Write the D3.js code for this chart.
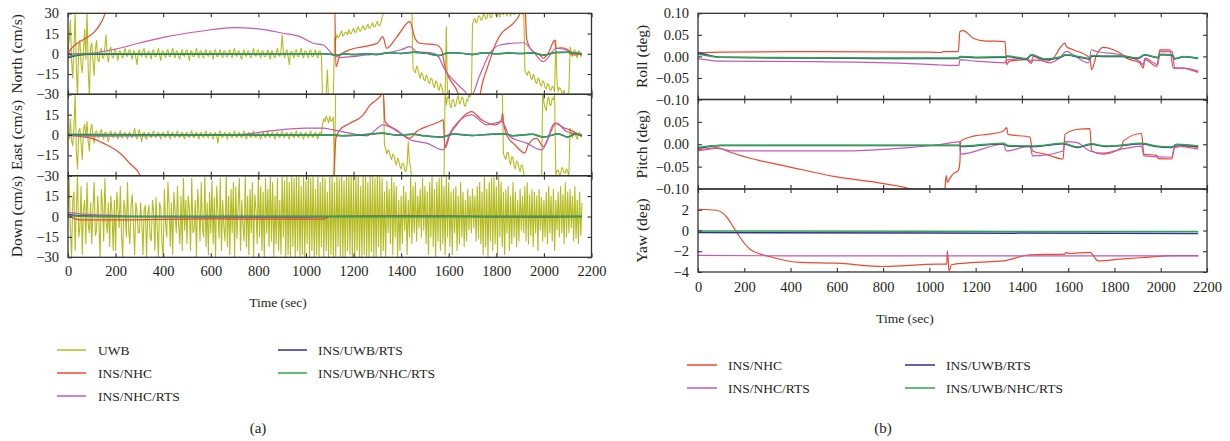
<!DOCTYPE html>
<html>
<head>
<meta charset="utf-8">
<script src="https://cdn.jsdelivr.net/npm/d3@7"></script>
<style>
  body { margin: 0; background: #fff; }
  svg text { font-family: "Liberation Serif", "Times New Roman", serif; fill: #231f20; }
</style>
</head>
<body>
<svg id="chart" width="1230" height="441"></svg>
<script>
// ---- data ----
// UWB velocity samples, one every 5 s from 0 to 2160 s (one row = 100 s)
const uwbTime = d3.range(0, 2161, 5);
const uwbNorth = [
  2, 10, 25, -5, -18, 4, 30, -10, -32, 6, 10, -8, -14, 3, 18, -4, 32, -12, -32, 5,
  8, -6, -16, 3, 10, -4, -6, 2, 4, -3, -3, 5, 14, -2, -6, 3, 5, -2, -3, 2,
  3, -1, -5, 2, 2, -2, -3, 1, 4, -1, -2, 2, 3, -1, -4, 2, 2, -3, -8, 1,
  3, -1, -2, 2, 4, -2, -3, 1, 2, -1, -4, 2, 3, -2, -2, 1, 4, -1, -5, 2,
  2, -1, -3, 2, 3, -2, -2, 1, 4, -1, -3, 2, 2, -2, -4, 1, 3, -1, -2, 2,
  3, -1, -5, 2, 2, -2, -2, 1, 4, -1, -3, 2, 2, -2, -3, 1, 3, -1, -2, 2,
  2, -1, -4, 2, 3, -2, -2, 1, 3, -1, -3, 2, 2, -2, -2, 1, 3, -1, -3, 2,
  4, -1, -2, 2, 2, -2, -4, 1, 3, -1, -2, 2, 2, -2, -3, 1, 4, -1, -2, 2,
  3, -1, -3, 2, 2, -2, -2, 1, 3, -1, -4, 2, 2, -2, -3, 1, 4, -1, -2, 2,
  14, 2, -3, 1, 3, -2, -8, 1, 2, -1, -3, 2, 3, -2, -2, 1, 4, -1, -3, 2,
  2, -1, -3, 2, 3, -2, -2, 1, 3, -1, -3, 2, 2, -2, -34, -34, -34, -30, -12, -34,
  -34, -34, -34, -34, 12, 10, 14, 12, 13, 15, 17, 13, 14, 16, 16, 14, 18, 15, 15, 17,
  19, 16, 16, 18, 20, 17, 17, 19, 21, 18, 18, 20, 22, 19, 19, 21, 23, 20, 20, 22,
  24, 21, 21, 23, 27, 30, 34, 34, 34, 34, 34, 34, 34, 34, 34, 34, 34, 34, 34, 34,
  34, 34, 34, 34, 34, 34, 34, 34, 34, 34, -10, -13, -14, -9, -11, -15, -18, -14, -15, -19,
  -20, -16, -17, -21, -22, -18, -19, -23, -25, -20, -21, -26, -27, -22, -24, -28, -34, -30, 20, -34,
  -34, -34, -34, -34, -34, -34, -34, -34, -34, -34, -34, -34, -34, -34, -34, -34, -34, -34, -34, -34,
  22, 25, 26, 23, 24, 28, 28, 25, 25, 29, 29, 26, 26, 30, 30, 27, 27, 32, 34, 30,
  28, 31, 30, 27, 34, 30, 29, 32, 31, 28, 34, 31, 28, 32, 34, 29, 30, 34, 34, 31,
  34, 32, 29, 34, -12, -14, -16, -13, -14, -18, -19, -15, -17, -21, -22, -18, -19, -23, -24, -20,
  -21, -25, -26, -22, -23, -27, -27, -24, -25, -28, 10, -20, -28, -25, -26, -29, -29, -27, -34, -31,
  -30, -28, 5, 1, -2, 2, 3, -1, -3, 2, 2, -2, -1
];
const uwbEast = [
  1, -3, 12, -4, -8, 6, 30, -12, -25, 3, 5, -6, -18, 4, 8, -2, 10, -5, -12, 4,
  8, -2, -6, 2, 3, -1, -2, 2, 4, -1, -3, 2, 2, -2, -5, 1, 3, -1, -2, 2,
  2, -1, -3, 1, 3, -2, -2, 1, 2, -1, -3, 1, 2, -1, -2, 1, 5, -1, -3, 1,
  4, -1, -5, 1, 2, -2, -3, 1, 2, -1, -2, 1, 3, -1, -2, 1, 2, -1, -3, 1,
  2, -1, -2, 1, 3, -1, -3, 1, 2, -1, -2, 1, 3, -1, -2, 1, 2, -1, -3, 1,
  2, -1, -2, 1, 3, -1, -2, 1, 2, -1, -3, 1, 2, -1, -2, 1, 3, -1, -2, 1,
  2, -1, -3, 1, 2, -1, -6, 1, 3, -1, -2, 1, 2, -1, -3, 1, 2, -1, -2, 1,
  3, -1, -2, 1, 2, -1, -2, 1, 3, -1, -3, 1, 2, -1, -2, 1, 3, -1, -2, 1,
  2, -1, -3, 1, 2, -1, -2, 1, 3, -1, -2, 1, 2, -1, -3, 1, 2, -1, -2, 1,
  3, -1, -2, 1, 2, -1, -3, 1, 2, -1, -2, 1, 3, -1, -2, 1, 2, -1, -3, 1,
  2, -1, -2, 1, 3, -1, -2, 1, 2, -1, -3, 1, 2, 1, 8, 12, 10, 14, 12, 9,
  14, 10, 11, 13, -34, 34, 34, 34, 34, 34, 34, 34, 34, 34, 34, 34, 34, 34, 34, 34,
  34, 34, 34, 34, 34, 34, 34, 34, 34, 34, 34, 34, 34, 34, 34, 34, 34, 34, 34, 34,
  34, 34, 34, 34, 34, 34, -8, -10, -14, -11, -12, -16, -18, -14, -15, -20, -22, -17, -19, -23,
  -25, -21, -21, -26, -27, -22, -5, -20, -24, -34, -34, -34, -34, -34, -34, -34, -34, -34, -34, -34,
  -34, -34, -34, -34, -34, -34, -34, -34, -34, -34, -34, -34, -34, -34, -34, -34, -34, 34, 22, 28,
  28, 22, 20, 26, 26, 21, 22, 27, 29, 23, 24, 28, 27, 22, 21, 26, 25, 30, 28, 34,
  34, 34, 34, 34, 34, 34, 34, 34, 34, 34, 34, 34, 34, 34, 34, 34, 34, 34, 34, 34,
  34, 34, 34, 34, 34, 34, -14, -16, -18, -13, -13, -19, -22, -16, -17, -23, -25, -19, -20, -24,
  -27, -22, -23, -28, -34, -34, -34, -34, -34, -34, -34, -34, -34, -34, -34, -34, -34, -34, -34, 34,
  24, 20, 18, 26, 28, 22, 22, 27, 26, 30, -30, -26, -26, -29, -29, -24, -25, -28, -28, -25,
  -27, -30, 5, 1, -2, 2, 2, -1, -3, 1, 2, -1, 0
];
const uwbDown = [
  5, 28, -10, -30, 12, 18, -25, 6, 30, -15, -8, 22, -28, 4, 12, -20, 25, -6, -12, 10,
  -20, 6, 25, -14, -10, 15, -5, -30, 20, 8, -18, 28, -4, -12, 10, -22, 15, 3, -25, 12,
  -25, 18, 6, -8, 22, -15, -30, 12, 5, -15, 25, -10, -20, 8, 16, -6, -28, 10, 4, -12,
  -12, 10, -3, -28, 5, 8, -30, 2, 8, -15, -18, 12, 3, -25, 14, -8, -30, 10, 6, -20,
  -30, 20, -5, -15, 25, 8, -22, 10, -28, 18, 4, -12, 22, -6, -20, 15, -25, 28, -10, 12,
  -20, 15, 6, -25, 28, -12, -10, 12, -30, 20, 5, -18, 25, -8, -15, 30, -22, 10, -28, 18,
  -12, 26, -20, 14, -30, 22, 4, -16, 28, -25, 12, -8, -18, 30, -22, 15, -28, 20, -12, 25,
  -30, 22, -16, 8, 28, -25, 12, -6, -18, 30, -22, 15, -28, 20, -12, 25, -30, 16, 5, -20,
  30, -15, 22, -25, 18, -30, 28, -12, 20, -22, 30, -18, 25, -30, 15, -20, 28, -25, 12, -28,
  30, -15, 26, -30, 30, -28, 25, -30, 30, -22, 28, -30, 30, -25, 30, -30, 22, -28, 30, -30,
  26, -20, 30, -30, 28, -25, 30, -30, 20, -28, 30, -30, 25, -22, 30, -30, 28, -25, 18, -30,
  30, -28, 30, -30, 25, -30, 30, -22, 28, -30, 30, -30, 26, -30, 30, -25, 30, -28, 30, -30,
  28, -30, 30, -25, 30, -30, 22, -30, 30, -28, 30, -30, 25, -30, 30, -26, 30, -30, 28, -30,
  30, -22, 30, -30, 28, -25, 18, -30, 26, -12, 20, -20, 30, -28, 25, -15, 22, -30, 12, -25,
  15, -20, 22, -10, 18, -28, 12, -15, 30, -20, 22, -12, 25, -18, 15, -8, 20, -15, 28, -10,
  22, -20, 18, -28, 25, -15, 30, -22, 20, -30, 25, -18, 28, -25, 30, -20, 22, -28, 30, -15,
  25, -22, 18, -28, 20, -12, 22, -25, 15, -20, 25, -15, 18, -22, 12, -18, 20, -10, 15, -12,
  20, -8, 15, -18, 22, -16, 25, -20, 18, -28, 30, -22, 20, -30, 25, -18, 28, -25, 30, -20,
  22, -28, 30, -15, 25, -22, 18, -28, 20, -12, 22, -25, 15, -20, 25, -15, 18, -22, 12, -18,
  20, -10, 15, -12, 22, -18, 25, -20, 16, -14, 20, -22, 18, -12, 15, -25, 20, -10, 14, -18,
  12, -15, 18, -20, 22, -12, 15, -18, 20, -25, 12, -10, 18, -15, 22, -12, 16, -20, 25, -15,
  18, -12, 20, -8, 15, -18, 22, -16, 12, -20, 18, -14, 10
];

// filter outputs as [time, value] knots
const northNHC = [[0,0],[15,4],[40,8],[80,12],[110,16],[135,22],[155,30],[165,40],[1120,40],[1126,-9.6],[1143,-1],[1185,3],[1241,5.3],[1300,7.8],[1323,12.7],[1339,4.1],[1380,12],[1437,23.8],[1458,11.5],[1479,7.8],[1549,6.5],[1570,2.8],[1584,-9.6],[1639,-29],[1660,-40],[1715,-40],[1745,-19.4],[1766,-8.3],[1801,9],[1822,15.2],[1836,17.6],[1878,23.8],[1899,30],[1910,40],[1920,40],[1927,11.5],[1948,2.8],[1983,-0.9],[1997,-3.3],[2018,0.4],[2046,10.2],[2050,4],[2074,4.5],[2102,2.8],[2116,-0.9],[2160,0]];
const northNHCRTS = [[0,0],[100,0.5],[200,3.5],[300,8],[415,12.7],[550,16.5],[695,19.4],[800,18.5],[905,15.2],[975,12.7],[1030,7.8],[1073,6.5],[1115,-0.9],[1143,-2.6],[1255,-0.9],[1325,0.4],[1400,3],[1437,5.3],[1465,1.6],[1535,0.4],[1560,-3],[1577,-9.6],[1647,-24.4],[1675,-30],[1680,-33],[1689,-33],[1731,-15.7],[1773,0.4],[1815,6.5],[1913,8.2],[1955,1.6],[1997,-5.9],[2053,4.1],[2095,2.8],[2109,0.4],[2160,0]];
const northUWBRTS = [[0,-3],[30,-1.5],[80,-0.3],[1070,0],[1110,-0.5],[1130,-1],[1160,0],[1200,-0.5],[1260,0],[1300,-0.5],[1350,0.8],[1400,0.2],[1450,1.2],[1500,0.5],[1560,-1.2],[1600,0.8],[1650,0.5],[1700,-0.5],[1750,0.8],[1800,0],[1850,0.6],[1900,0.2],[1950,0.6],[2000,-0.8],[2050,1],[2100,1.2],[2160,0]];
const northFull = [[0,-2],[30,-1],[80,0],[1070,0],[1110,-0.5],[1130,-1.2],[1160,0],[1200,-0.5],[1260,0],[1300,-0.5],[1350,0.8],[1400,0.2],[1450,1.2],[1500,0.5],[1560,-1.2],[1600,0.8],[1650,0.5],[1700,-0.5],[1750,0.8],[1800,0],[1850,0.6],[1900,0.2],[1950,0.6],[2000,-0.8],[2050,1],[2100,1.2],[2160,0]];

const eastNHC = [[0,0],[50,-1],[100,-2.5],[148,-6],[218,-13.3],[260,-21],[302,-29.5],[320,-40],[1110,-40],[1115,-35],[1126,-2.3],[1143,3.8],[1185,8.7],[1241,14.8],[1269,22],[1311,28.3],[1325,32],[1332,9.9],[1380,3.8],[1437,-2.3],[1465,2.6],[1520,7],[1563,9.9],[1577,11.2],[1584,-9.6],[1605,0.1],[1633,7.5],[1668,14.8],[1696,17.3],[1738,11.2],[1794,7.5],[1822,11.2],[1826,16],[1830,10],[1843,0.1],[1878,-7.2],[1920,-13.3],[1934,-7.2],[1969,-2.3],[1997,-8.5],[2046,8.7],[2088,5],[2109,3.8],[2160,-1.1]];
const eastNHCRTS = [[0,-0.5],[100,-0.8],[400,-0.5],[700,0],[850,3],[1000,5],[1070,5],[1115,3.8],[1185,1.4],[1255,-0.6],[1325,7.5],[1395,1.4],[1437,-3.5],[1507,-6],[1577,-10.9],[1605,1.4],[1696,14.8],[1759,7.5],[1822,9.9],[1857,-1.1],[1927,-6],[1990,-10.9],[2053,8.7],[2095,2.6],[2160,0]];
const eastUWBRTS = [[0,0.3],[1100,0],[1150,-0.5],[1250,0.3],[1320,1.3],[1380,0],[1450,0.5],[1500,-0.6],[1570,-1.5],[1620,0.8],[1700,-0.3],[1760,0.4],[1830,1],[1870,-0.5],[1950,0.5],[2000,-1.5],[2060,1],[2100,-1.5],[2130,0.5],[2160,0]];
const eastFull = [[0,0],[1100,0],[1150,-0.5],[1250,0.3],[1320,1.5],[1380,0],[1450,0.5],[1500,-0.6],[1570,-1.5],[1620,0.8],[1700,-0.3],[1760,0.4],[1830,1],[1870,-0.5],[1950,0.5],[2000,-1.5],[2060,1],[2100,-1.5],[2130,0.5],[2160,0]];

const downNHC = [[0,1],[20,-1],[50,-2.5],[200,-2.5],[600,-1.8],[1000,-2],[1070,-2],[1100,0],[1400,0.5],[1600,0.3],[1800,-0.3],[2000,-0.5],[2160,0]];
const downNHCRTS = [[0,3],[50,2],[150,1],[300,0],[600,-0.5],[1000,-0.7],[1100,0],[2160,0]];
const downUWBRTS = [[0,1.5],[50,0.5],[150,0],[2160,0]];
const downFull = [[0,0.5],[100,0],[2160,0]];

const rollNHC = [[0,0.008],[100,0.01],[500,0.011],[1000,0.010],[1050,0.009],[1060,0.011],[1125,0.011],[1132,0.0575],[1146,0.06],[1190,0.042],[1233,0.036],[1327,0.0345],[1334,-0.019],[1345,-0.0115],[1420,-0.0076],[1441,-0.016],[1448,-0.008],[1507,-0.011],[1536,-0.004],[1564,0.019],[1586,0.031],[1592,0.023],[1622,0.0154],[1694,-0.004],[1701,-0.031],[1723,0.004],[1752,0.021],[1795,0.0154],[1824,0.008],[1853,-0.004],[1910,-0.0152],[1924,-0.027],[1932,-0.0076],[1983,-0.023],[1996,0.0154],[2040,0.015],[2054,-0.027],[2090,-0.027],[2162,-0.037]];
const rollNHCRTS = [[0,-0.005],[100,-0.011],[500,-0.012],[900,-0.016],[1050,-0.02],[1128,-0.021],[1132,-0.0076],[1200,-0.011],[1327,-0.015],[1334,-0.008],[1420,-0.005],[1441,-0.012],[1448,0],[1480,-0.008],[1521,-0.015],[1560,-0.005],[1593,0.0115],[1622,0.004],[1687,-0.015],[1701,0.0154],[1720,0.012],[1824,0.004],[1910,-0.012],[1924,-0.019],[1932,-0.004],[1988,-0.019],[1996,0.0115],[2050,0.011],[2060,-0.027],[2100,-0.027],[2162,-0.034]];
const rollUWBRTS = [[0,0.009],[50,0.002],[100,-0.002],[500,-0.004],[1000,-0.005],[1125,-0.005],[1132,-0.001],[1200,-0.003],[1327,-0.002],[1334,0],[1420,-0.006],[1441,0.003],[1500,-0.007],[1560,-0.003],[1593,0.003],[1650,-0.002],[1694,-0.006],[1701,0.001],[1760,0],[1830,0],[1900,-0.005],[1930,0.003],[1988,-0.003],[2000,0.004],[2050,0.003],[2060,-0.006],[2100,-0.001],[2162,-0.005]];
const rollFull = [[0,0.005],[50,0.001],[100,-0.002],[500,-0.003],[1000,-0.004],[1125,-0.004],[1132,0],[1200,-0.002],[1327,-0.001],[1334,0.001],[1420,-0.005],[1441,0.004],[1500,-0.006],[1560,-0.002],[1593,0.004],[1650,-0.001],[1694,-0.005],[1701,0.002],[1760,0.001],[1830,0.001],[1900,-0.004],[1930,0.004],[1988,-0.002],[2000,0.005],[2050,0.004],[2060,-0.005],[2100,0],[2162,-0.0045]];

const pitchNHC = [[0,-0.0125],[40,-0.01],[81,-0.0075],[124,-0.015],[210,-0.029],[398,-0.051],[599,-0.073],[801,-0.088],[916,-0.1],[930,-0.12],[1060,-0.12],[1067,-0.1],[1073,-0.07],[1078,-0.085],[1090,-0.075],[1103,-0.066],[1125,-0.059],[1132,-0.04],[1135,0.007],[1190,0.018],[1250,0.022],[1319,0.029],[1334,0.037],[1340,0.022],[1435,0.016],[1446,-0.015],[1500,-0.022],[1578,-0.033],[1586,0.022],[1636,0.033],[1694,0.035],[1701,-0.015],[1752,-0.022],[1831,-0.007],[1838,0.007],[1917,0.024],[1927,-0.022],[1983,-0.025],[1990,-0.032],[2047,-0.033],[2061,-0.007],[2110,-0.004],[2162,-0.007]];
const pitchNHCRTS = [[0,-0.015],[80,-0.009],[151,-0.015],[600,-0.015],[900,-0.008],[1050,0],[1103,0.004],[1130,0.006],[1135,-0.022],[1319,0],[1334,-0.015],[1435,-0.004],[1446,-0.026],[1578,-0.015],[1586,0.006],[1636,0.004],[1694,-0.015],[1752,-0.02],[1831,-0.011],[1917,-0.004],[1927,-0.026],[2047,-0.029],[2061,-0.004],[2162,-0.011]];
const pitchUWBRTS = [[0,-0.009],[50,-0.005],[100,-0.003],[1130,-0.003],[1140,-0.005],[1250,-0.001],[1319,0.001],[1340,-0.004],[1446,-0.005],[1500,-0.003],[1578,0.001],[1640,-0.007],[1700,0],[1760,-0.005],[1830,-0.003],[1917,0.001],[1980,-0.005],[2047,-0.007],[2070,-0.001],[2162,-0.005]];
const pitchFull = [[0,-0.007],[50,-0.004],[100,-0.002],[1130,-0.002],[1140,-0.004],[1250,0],[1319,0.002],[1340,-0.003],[1446,-0.004],[1500,-0.002],[1578,0.002],[1640,-0.006],[1700,0.001],[1760,-0.004],[1830,-0.002],[1917,0.002],[1980,-0.004],[2047,-0.006],[2070,0],[2162,-0.004]];

const yawNHC = [[0,2.05],[81,1.95],[124,1.3],[153,0.33],[181,-0.65],[225,-1.8],[325,-2.6],[441,-3.08],[599,-3.15],[801,-3.47],[1032,-3.25],[1075,-3.25],[1078,-1.95],[1085,-3.9],[1096,-3.3],[1190,-3.08],[1319,-2.93],[1435,-2.34],[1586,-2.27],[1590,-2.1],[1600,-2.2],[1694,-2.1],[1730,-2.93],[1824,-2.76],[1924,-2.6],[2054,-2.43],[2162,-2.43]];
const yawNHCRTS = [[0,-2.4],[500,-2.45],[1500,-2.45],[2162,-2.45]];
const yawUWBRTS = [[0,-0.2],[1000,-0.24],[2162,-0.28]];
const yawFull = [[0,0],[30,-0.05],[1000,-0.08],[2162,-0.1]];

const timeTicks = [0, 200, 400, 600, 800, 1000, 1200, 1400, 1600, 1800, 2000, 2200];
const velTicks = [-30, -15, 0, 15, 30];
const angTicks = [-0.10, -0.05, 0.00, 0.05, 0.10];
const yawTicks = [-4, -2, 0, 2, 4];

const legendA = ['UWB', 'INS/NHC', 'INS/NHC/RTS', 'INS/UWB/RTS', 'INS/UWB/NHC/RTS'];
const legendB = ['INS/NHC', 'INS/NHC/RTS', 'INS/UWB/RTS', 'INS/UWB/NHC/RTS'];

// ---- drawing ----
const color = {
  'UWB': '#b5bc22',
  'INS/NHC': '#f1472b',
  'INS/NHC/RTS': '#c858b6',
  'INS/UWB/RTS': '#2f2f9e',
  'INS/UWB/NHC/RTS': '#2fa84c'
};
const svg = d3.select('#chart');
let clipId = 0;

function drawPanel(cfg) {
  const x = d3.scaleLinear().domain([0, 2200]).range([cfg.x0, cfg.x1]);
  const y = d3.scaleLinear().domain(cfg.domain).range([cfg.bottom, cfg.top]);
  const g = svg.append('g');
  const id = 'clip' + (clipId++);
  g.append('clipPath').attr('id', id).append('rect')
    .attr('x', cfg.x0).attr('y', cfg.top)
    .attr('width', cfg.x1 - cfg.x0).attr('height', cfg.bottom - cfg.top);
  const plot = g.append('g').attr('clip-path', `url(#${id})`);

  cfg.series.forEach(s => {
    const line = d3.line()
      .x(d => x(d[0]))
      .y(d => y(d[1]))
      .curve(s.smooth ? d3.curveMonotoneX : d3.curveLinear);
    plot.append('path')
      .datum(s.data)
      .attr('fill', 'none')
      .attr('stroke', color[s.name])
      .attr('stroke-width', s.width || 1.2)
      .attr('stroke-linejoin', 'round')
      .attr('d', line);
  });

  const noText = () => '';

  g.append('g').attr('transform', `translate(0,${cfg.bottom})`)
    .call(d3.axisBottom(x).tickValues(timeTicks).tickSizeInner(-4).tickSizeOuter(0).tickPadding(cfg.xPad)
      .tickFormat(cfg.showX ? d3.format('d') : noText));
  g.append('g').attr('transform', `translate(0,${cfg.top})`)
    .call(d3.axisTop(x).tickValues(timeTicks).tickSizeInner(-4).tickSizeOuter(0).tickFormat(noText));
  g.append('g').attr('transform', `translate(${cfg.x0},0)`)
    .call(d3.axisLeft(y).tickValues(cfg.labelTicks).tickSizeInner(-4).tickSizeOuter(0).tickPadding(9).tickFormat(cfg.fmt));
  g.append('g').attr('transform', `translate(${cfg.x1},0)`)
    .call(d3.axisRight(y).tickValues(cfg.ticks).tickSizeInner(-4).tickSizeOuter(0).tickFormat(noText));

  g.selectAll('.domain').remove();
  g.selectAll('.tick line').attr('stroke', '#333').attr('stroke-width', 1.1);
  g.selectAll('.tick text').attr('font-size', 14.5).attr('font-family', null).attr('fill', '#231f20');

  g.append('rect')
    .attr('x', cfg.x0).attr('y', cfg.top)
    .attr('width', cfg.x1 - cfg.x0).attr('height', cfg.bottom - cfg.top)
    .attr('fill', 'none').attr('stroke', '#333').attr('stroke-width', 1.3);

  g.append('text')
    .attr('transform', `translate(${cfg.titleX},${(cfg.top + cfg.bottom) / 2}) rotate(-90)`)
    .attr('text-anchor', 'middle')
    .attr('font-size', 15.5)
    .text(cfg.title);
}

function uwbSeries(vals) {
  return vals.map((v, i) => [uwbTime[i], v]);
}

// left figure (a): velocity errors
const leftX = [68, 591.5];
const leftRows = [13.3, 94.3, 175.7, 257.3];
const velFmt = d3.format('d');
[
  { title: 'North (cm/s)', uwb: uwbNorth, nhc: northNHC, nhcRts: northNHCRTS, uwbRts: northUWBRTS, full: northFull },
  { title: 'East (cm/s)', uwb: uwbEast, nhc: eastNHC, nhcRts: eastNHCRTS, uwbRts: eastUWBRTS, full: eastFull },
  { title: 'Down (cm/s)', uwb: uwbDown, nhc: downNHC, nhcRts: downNHCRTS, uwbRts: downUWBRTS, full: downFull }
].forEach((p, i) => {
  drawPanel({
    x0: leftX[0], x1: leftX[1], top: leftRows[i], bottom: leftRows[i + 1],
    domain: [-30, 30], ticks: velTicks,
    labelTicks: i === 0 ? velTicks : velTicks.slice(0, 4),
    fmt: velFmt, showX: i === 2, xPad: 8.5, title: p.title, titleX: 22,
    series: [
      { name: 'UWB', data: uwbSeries(p.uwb), width: 1.1 },
      { name: 'INS/NHC', data: p.nhc, smooth: true },
      { name: 'INS/NHC/RTS', data: p.nhcRts, smooth: true },
      { name: 'INS/UWB/RTS', data: p.uwbRts, smooth: true, width: 1.5 },
      { name: 'INS/UWB/NHC/RTS', data: p.full, smooth: true, width: 1.5 }
    ]
  });
});

// right figure (b): attitude errors
const rightX = [698, 1207];
const rightRows = [13.3, 99.5, 189, 272];
const angFmt = d3.format('.2f');
[
  { title: 'Roll (deg)', domain: [-0.1, 0.1], ticks: angTicks, labels: angTicks, fmt: angFmt, nhc: rollNHC, nhcRts: rollNHCRTS, uwbRts: rollUWBRTS, full: rollFull },
  { title: 'Pitch (deg)', domain: [-0.1, 0.1], ticks: angTicks, labels: angTicks.slice(0, 4), fmt: angFmt, nhc: pitchNHC, nhcRts: pitchNHCRTS, uwbRts: pitchUWBRTS, full: pitchFull },
  { title: 'Yaw (deg)', domain: [-4, 4], ticks: yawTicks, labels: yawTicks.slice(0, 4), fmt: d3.format('d'), nhc: yawNHC, nhcRts: yawNHCRTS, uwbRts: yawUWBRTS, full: yawFull }
].forEach((p, i) => {
  drawPanel({
    x0: rightX[0], x1: rightX[1], top: rightRows[i], bottom: rightRows[i + 1],
    domain: p.domain, ticks: p.ticks, labelTicks: p.labels,
    fmt: p.fmt, showX: i === 2, xPad: 9.5, title: p.title, titleX: 647,
    series: [
      { name: 'INS/NHC', data: p.nhc, smooth: true },
      { name: 'INS/NHC/RTS', data: p.nhcRts, smooth: true },
      { name: 'INS/UWB/RTS', data: p.uwbRts, smooth: true, width: 1.5 },
      { name: 'INS/UWB/NHC/RTS', data: p.full, smooth: true, width: 1.5 }
    ]
  });
});

// axis titles and captions
svg.append('text').attr('x', 278).attr('y', 307).attr('text-anchor', 'middle').attr('font-size', 13.5).text('Time (sec)');
svg.append('text').attr('x', 905).attr('y', 323).attr('text-anchor', 'middle').attr('font-size', 13.5).text('Time (sec)');
svg.append('text').attr('x', 258).attr('y', 433).attr('text-anchor', 'middle').attr('font-size', 15).text('(a)');
svg.append('text').attr('x', 883).attr('y', 433).attr('text-anchor', 'middle').attr('font-size', 15).text('(b)');

// legends
function legend(names, cols, rows) {
  names.forEach((name, i) => {
    const col = i < rows.length ? 0 : 1;
    const row = col === 0 ? i : i - rows.length;
    const c = cols[col];
    const yy = rows[row];
    svg.append('line')
      .attr('x1', c.x1).attr('x2', c.x2).attr('y1', yy).attr('y2', yy)
      .attr('stroke', color[name]).attr('stroke-width', 1.5);
    svg.append('text')
      .attr('x', c.tx).attr('y', yy + 4.5)
      .attr('font-size', 13.5)
      .text(name);
  });
}
legend(legendA, [{ x1: 57, x2: 86, tx: 98 }, { x1: 278, x2: 307, tx: 318 }], [350, 373, 396]);
legend(legendB, [{ x1: 687, x2: 717, tx: 728 }, { x1: 905, x2: 935, tx: 946 }], [365, 388]);
</script>
</body>
</html>
